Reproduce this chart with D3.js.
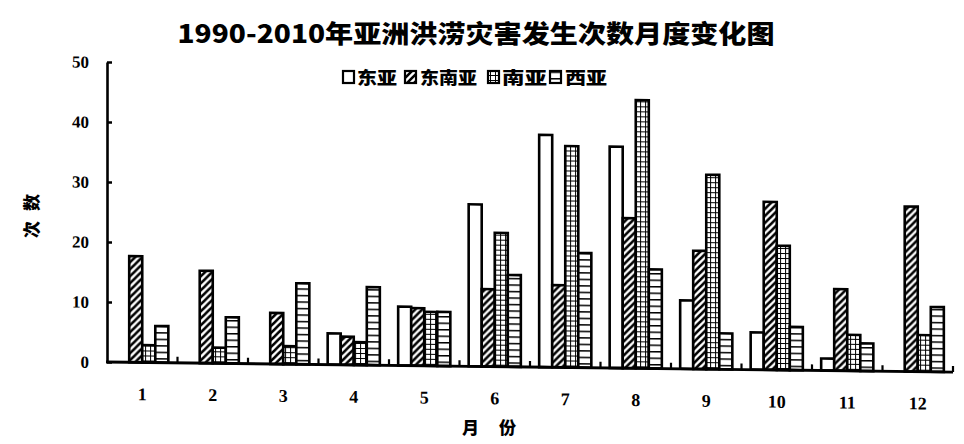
<!DOCTYPE html>
<html><head><meta charset="utf-8">
<script src="https://cdn.jsdelivr.net/npm/d3@7"></script>
<style>body{margin:0;background:#fff}</style>
</head><body><svg id="c" width="964" height="444"></svg>
<script>
const titleText = "1990-2010年亚洲洪涝灾害发生次数月度变化图";
const months = ["1","2","3","4","5","6","7","8","9","10","11","12"];
const series = ["东亚","东南亚","南亚","西亚"];
const eastAsia      = [0, 0, 0, 5.2, 9.8, 27.0, 38.7, 36.9, 11.4, 6.2, 2.0, 0];
const southeastAsia = [17.7, 15.4, 8.5, 4.7, 9.6, 12.9, 13.7, 25.0, 19.7, 28.0, 13.6, 27.5];
const southAsia     = [2.9, 2.6, 3.0, 3.8, 9.0, 22.3, 36.9, 44.7, 32.4, 20.7, 6.0, 6.1];
const westAsia      = [6.1, 7.7, 13.5, 13.0, 9.0, 15.3, 19.1, 16.5, 6.0, 7.2, 4.6, 10.8];
const yTicks = [0, 10, 20, 30, 40, 50];
const yLabel = "次数";
const xLabel = "月 份";

const seriesValues = [eastAsia, southeastAsia, southAsia, westAsia];
const svg = d3.select("#c");
const defs = svg.append("defs");

// patterns
function pat(id, w, h, draw) {
  const p = defs.append("pattern").attr("id", id).attr("patternUnits", "userSpaceOnUse")
    .attr("width", w).attr("height", h);
  p.append("rect").attr("width", w).attr("height", h).attr("fill", "#fff");
  draw(p);
}
pat("diag", 7, 7, p => p.append("path")
  .attr("d", "M-1,8 L8,-1 M-2,2 L2,-2 M5,9 L9,5")
  .attr("stroke", "#000").attr("stroke-width", 2.6).attr("fill", "none"));
pat("grid", 5, 5, p => p.append("path")
  .attr("d", "M0,0 L5,0 M0,0 L0,5")
  .attr("stroke", "#000").attr("stroke-width", 1.9).attr("fill", "none"));
pat("hline", 6, 6.5, p => p.append("path")
  .attr("d", "M0,0.5 L6,0.5")
  .attr("stroke", "#000").attr("stroke-width", 2).attr("fill", "none"));
const fills = ["#fff", "url(#diag)", "url(#grid)", "url(#hline)"];

const plotLeft = 107, plotRight = 953, plotTop = 62, plotBottom = 362;
const x0 = d3.scaleBand().domain(months).range([plotLeft, plotRight]).paddingInner(0.26).paddingOuter(0.13);
const x1 = d3.scaleBand().domain(series).range([0, x0.bandwidth()]);
const y = d3.scaleLinear().domain([0, 50]).range([plotBottom, plotTop]);

// title
svg.append("text").attr("x", 476).attr("y", 43).attr("text-anchor", "middle")
  .attr("font-family", "'Noto Sans CJK SC', sans-serif").attr("font-weight", 900)
  .attr("font-size", 25).attr("textLength", 597).attr("lengthAdjust", "spacingAndGlyphs")
  .text(titleText);

// legend
const legendPos = [[343, 357, 40], [405, 420, 57], [488, 502, 45], [550, 565, 42]];
const lg = svg.append("g");
series.forEach((s, i) => {
  const [bx, tx, tw] = legendPos[i];
  lg.append("rect").attr("x", bx).attr("y", 71).attr("width", 11).attr("height", 12)
    .attr("fill", fills[i]).attr("stroke", "#000").attr("stroke-width", 2.2);
  lg.append("text").attr("x", tx).attr("y", 84).attr("font-family", "'Noto Sans CJK SC', sans-serif")
    .attr("font-weight", 900).attr("font-size", 17).attr("textLength", tw)
    .attr("lengthAdjust", "spacingAndGlyphs").text(s);
});

// plot group (slight skew like the scanned page)
const t = 10 / 843;
const g = svg.append("g").attr("transform", `translate(0,${-plotLeft * t}) skewY(${Math.atan(t) * 180 / Math.PI})`);

// bars
months.forEach((m, i) => {
  series.forEach((s, j) => {
    const v = seriesValues[j][i];
    if (v <= 0) return;
    g.append("rect").attr("x", x0(m) + x1(s)).attr("y", y(v))
      .attr("width", x1.bandwidth()).attr("height", y(0) - y(v))
      .attr("fill", fills[j]).attr("stroke", "#000").attr("stroke-width", 2.6);
  });
});

// y axis
const ya = g.append("g").attr("transform", `translate(${plotLeft},0)`)
  .call(d3.axisLeft(y).tickValues(yTicks).tickSize(-5).tickSizeOuter(0).tickPadding(18));
ya.select(".domain").attr("stroke-width", 2.6);
ya.selectAll(".tick line").attr("stroke-width", 2.4);
ya.selectAll(".tick text").attr("font-family", "'Liberation Serif', serif").attr("font-weight", 700)
  .attr("font-size", 17).attr("fill", "#000");

// x axis
g.append("line").attr("x1", plotLeft - 1).attr("x2", plotRight).attr("y1", y(0)).attr("y2", y(0))
  .attr("stroke", "#000").attr("stroke-width", 2.8);
d3.range(1, months.length + 1).forEach(k => {
  const xx = plotLeft + x0.step() * k;
  g.append("line").attr("x1", xx).attr("x2", xx).attr("y1", y(0)).attr("y2", y(0) - 6)
    .attr("stroke", "#000").attr("stroke-width", 2.2);
});
const xa = g.append("g").attr("transform", `translate(0,${y(0)})`)
  .call(d3.axisBottom(x0).tickSize(0).tickPadding(25));
xa.select(".domain").remove();
xa.selectAll(".tick text").attr("font-family", "'Liberation Serif', serif").attr("font-weight", 700)
  .attr("font-size", 18).attr("fill", "#000");

// axis titles
svg.append("text").attr("transform", "translate(38,211) rotate(-90)").attr("text-anchor", "middle")
  .attr("font-family", "'Noto Sans CJK SC', sans-serif").attr("font-weight", 900)
  .attr("font-size", 17).attr("letter-spacing", 10).text(yLabel);
svg.append("text").attr("x", 493).attr("y", 434).attr("text-anchor", "middle")
  .attr("font-family", "'Noto Sans CJK SC', sans-serif").attr("font-weight", 900)
  .attr("font-size", 17).attr("letter-spacing", 8).text(xLabel);
</script></body></html>
